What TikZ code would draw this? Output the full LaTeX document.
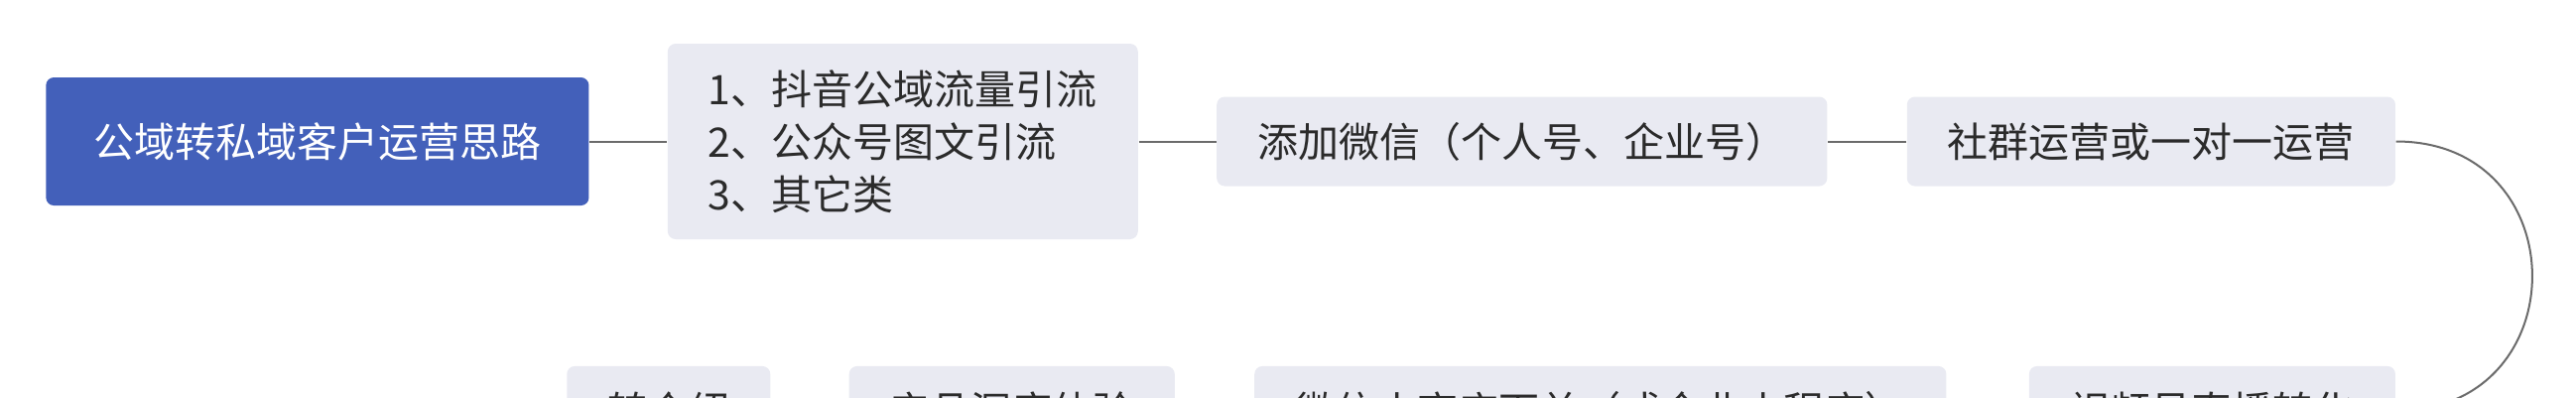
\documentclass[tikz,border=0pt]{standalone}
\usepackage{fontspec}
\setmainfont{Noto Sans CJK SC}
\usetikzlibrary{positioning}
\definecolor{rootblue}{HTML}{4360BA}
\definecolor{boxgray}{HTML}{E9EAF2}
\definecolor{textgray}{HTML}{2B2B2B}
\definecolor{linegray}{HTML}{6B6B6B}

\begin{document}
\begin{tikzpicture}[
  topic/.style={fill=boxgray, rounded corners=0.08cm, text=textgray, inner xsep=0.41cm,
    inner ysep=0pt, minimum height=0.9cm, font=\fontsize{11.67pt}{15.1pt}\selectfont},
  root/.style={topic, fill=rootblue, text=white, inner xsep=0.48cm, minimum height=1.29cm},
  link/.style={draw=linegray, line width=0.02cm}]
\useasboundingbox (0,0) rectangle (25.96,-4);
\clip (0,0) rectangle (25.96,-4);
% first row
\node[root, anchor=west] (root) at (0.456,-1.425) {公域转私域客户运营思路};
\node[topic, right=0.78cm of root, align=left, minimum height=1.97cm] (src)
  {1、抖音公域流量引流\\2、公众号图文引流\\3、其它类};
\node[topic, right=0.78cm of src] (wechat) {添加微信（个人号、企业号）};
\node[topic, right=0.79cm of wechat] (group) {社群运营或一对一运营};
% second row, right to left
\node[topic, anchor=north east] (live) at ([yshift=-1.8cm]group.south east) {视频号直播转化};
\node[topic, left=0.82cm of live] (shop) {微信小商店下单（或企业小程序）};
\node[topic, left=0.79cm of shop] (exp) {产品深度体验};
\node[topic, left=0.78cm of exp] (refer) {转介绍};
\foreach \a/\b in {root/src, src/wechat, wechat/group}
  \draw[link] (\a) -- (\b);
\draw[link] (group.east) .. controls +(1.83,0) and +(1.83,0) .. (live.east);
\end{tikzpicture}
\end{document}
